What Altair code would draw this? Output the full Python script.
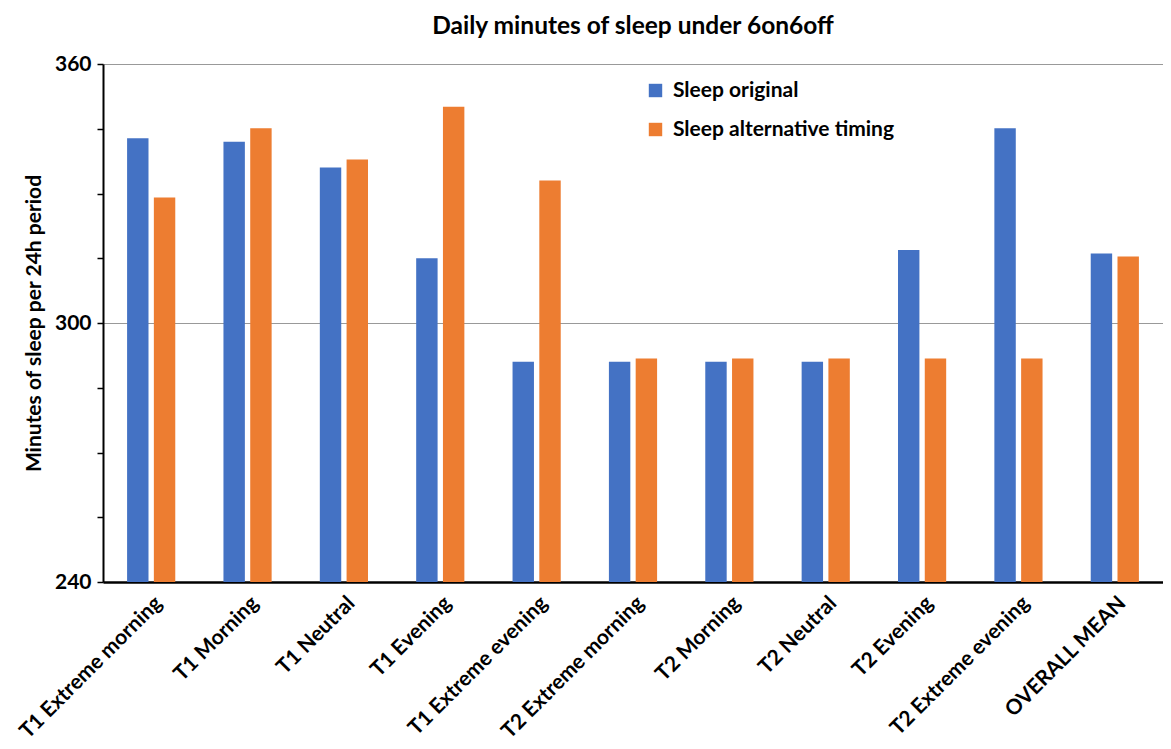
import altair as alt
import pandas as pd

categories = ["T1 Extreme morning", "T1 Morning", "T1 Neutral", "T1 Evening",
              "T1 Extreme evening", "T2 Extreme morning", "T2 Morning", "T2 Neutral",
              "T2 Evening", "T2 Extreme evening", "OVERALL MEAN"]
sleep_original = [342.8, 342.0, 336.0, 315.0, 291.0, 291.0, 291.0, 291.0, 316.9, 345.1, 316.1]
sleep_alternative = [329.1, 345.1, 337.9, 350.1, 333.0, 291.8, 291.8, 291.8, 291.8, 291.8, 315.4]
series_names = ["Sleep original", "Sleep alternative timing"]
colors = ["#4472C4", "#ED7D31"]
y_ticks = [240, 255, 270, 285, 300, 315, 330, 345, 360]

rows = []
for c, a, b in zip(categories, sleep_original, sleep_alternative):
    rows.append({"cat": c, "series": series_names[0], "value": a})
    rows.append({"cat": c, "series": series_names[1], "value": b})
df = pd.DataFrame(rows)

FONT = "Lato"

chart = alt.Chart(df).mark_bar(clip=True).encode(
    x=alt.X("cat:N", sort=categories,
            scale=alt.Scale(paddingInner=0.5, paddingOuter=0.25),
            axis=alt.Axis(title=None, labelAngle=-45, labelFont=FONT, labelFontSize=21,
                          labelFontWeight="bold", labelColor="#000000", ticks=False,
                          domainColor="#000000", domainWidth=2.5, labelPadding=10,
                          labelLimit=400)),
    xOffset=alt.XOffset("series:N", sort=series_names,
                        scale=alt.Scale(paddingInner=0.2)),
    y=alt.Y("value:Q", scale=alt.Scale(domain=[240, 360], nice=False, zero=False),
            axis=alt.Axis(title="Minutes of sleep per 24h period", values=y_ticks,
                          labelExpr="datum.value % 60 === 0 ? datum.label : ''",
                          gridOpacity=alt.condition("datum.value % 60 === 0", alt.value(1), alt.value(0)),
                          gridColor="#999999", gridWidth=1,
                          tickColor="#000000", tickSize=6, tickWidth=1.5,
                          domainColor="#000000", domainWidth=2,
                          labelFont=FONT, labelFontSize=21, labelFontWeight="bold",
                          labelColor="#000000", labelPadding=6,
                          titleFont=FONT, titleFontSize=21, titleFontWeight="bold",
                          titleColor="#000000", titlePadding=10)),
    color=alt.Color("series:N", sort=series_names,
                    scale=alt.Scale(domain=series_names, range=colors),
                    legend=alt.Legend(title=None, orient="none", legendX=542, legendY=16,
                                      symbolType="square", symbolSize=180,
                                      symbolStrokeWidth=0, rowPadding=17,
                                      labelFont=FONT, labelFontSize=21, labelOffset=7,
                                      labelFontWeight="bold", labelColor="#000000",
                                      labelLimit=400)),
).properties(
    width=1060, height=518,
    title=alt.TitleParams("Daily minutes of sleep under 6on6off", font=FONT, fontSize=24.5,
                          fontWeight="bold", color="#000000", anchor="middle",
                          offset=14),
    autosize=alt.AutoSizeParams(type="none"),
    padding={"left": 95, "top": 56, "right": 0, "bottom": 159},
).configure_view(stroke=None)

chart.save("out.html", embed_options={"renderer": "svg", "actions": False})
